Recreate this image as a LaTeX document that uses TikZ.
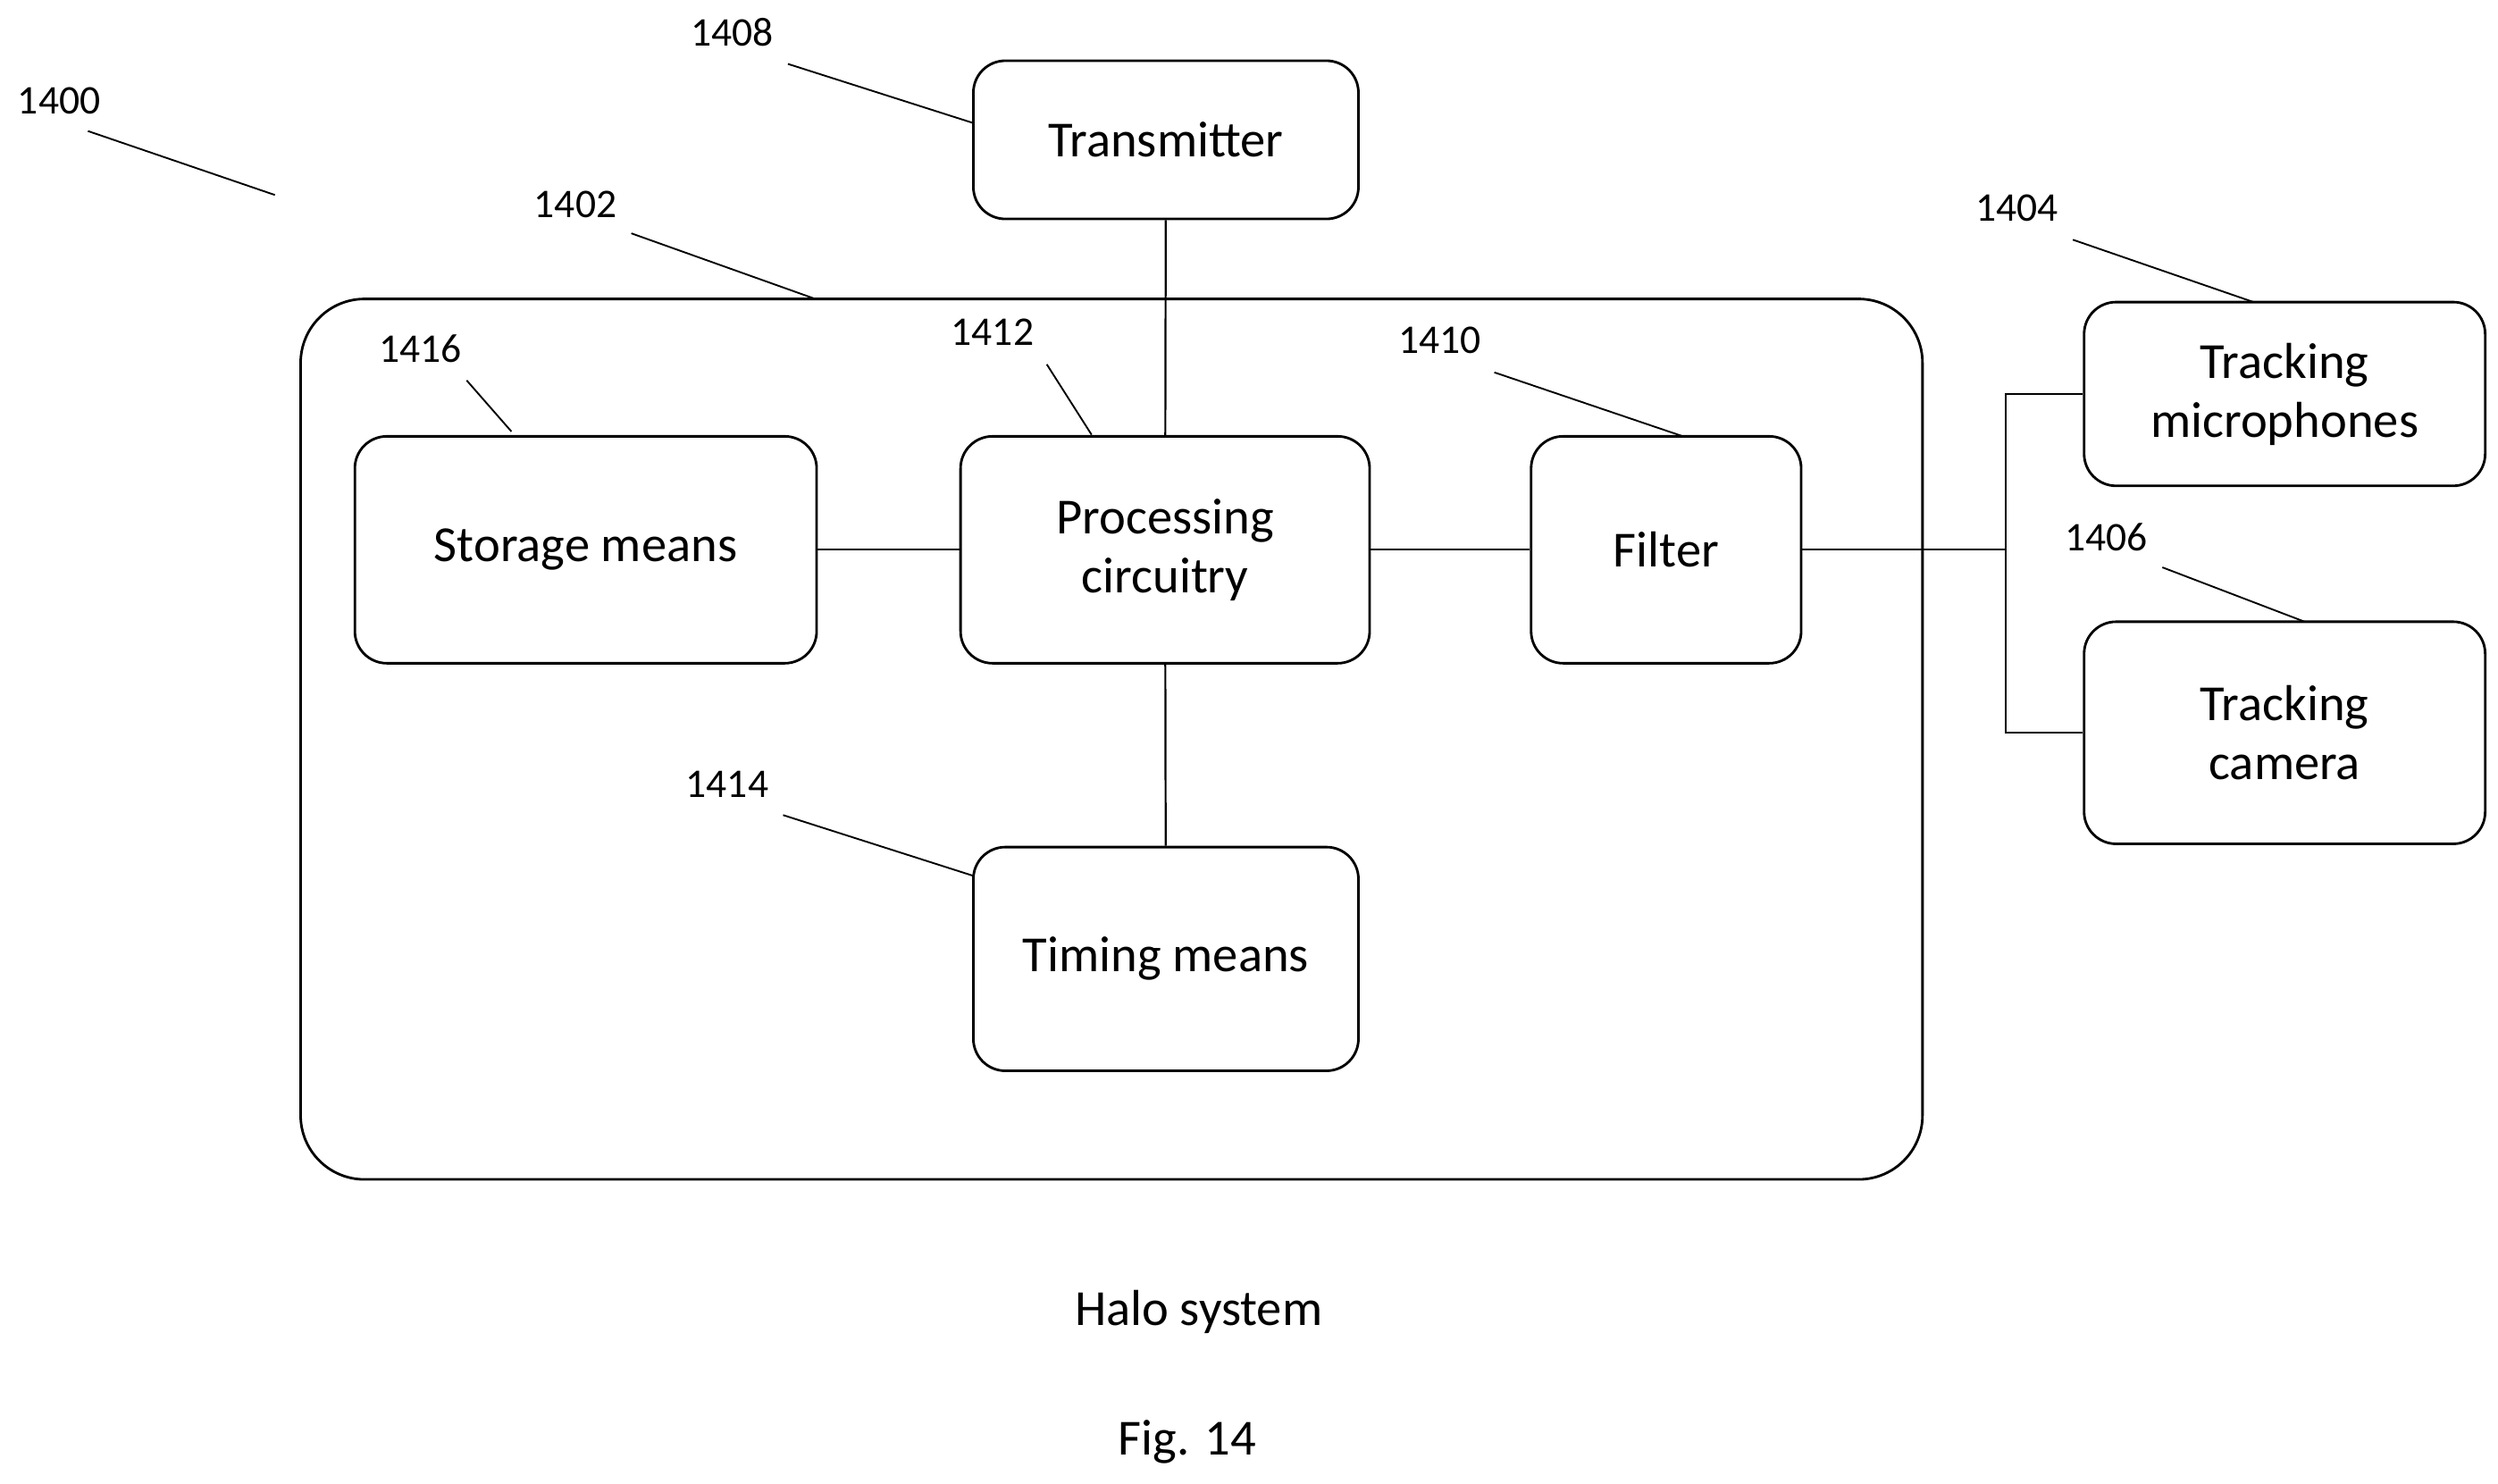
\documentclass[tikz,border=0pt]{standalone}
\usepackage{fontspec}
\setmainfont{Carlito}
\usetikzlibrary{positioning}
\tikzset{
  block/.style={draw, rounded corners=0.4cm, line width=0.9pt, align=center, font=\fontsize{18}{21}\selectfont, inner sep=0pt},
  num/.style={font=\fontsize{14.5}{17}\selectfont, inner sep=1pt},
  lead/.style={line width=0.6pt},
  wire/.style={line width=0.7pt}
}
\begin{document}
\begin{tikzpicture}[x=0.02cm,y=-0.02cm]
        \useasboundingbox (0,0) rectangle (1563,928);
        % Outer box
        \node[draw, rounded corners=0.8cm, line width=0.9pt, minimum width=20.3cm, minimum height=11.02cm] (halo) at (695.5,462.5) {};

        % Blocks
        \node[block, minimum width=4.82cm, minimum height=1.98cm] (tx) at (729.5,87.5) {Transmitter};
        \node[block, minimum width=5.78cm, minimum height=2.84cm] (store) at (366.5,344) {Storage means};
        \node[block, minimum width=5.12cm, minimum height=2.84cm] (proc) at (729,344) {Processing\\circuitry};
        \node[block, minimum width=3.38cm, minimum height=2.84cm] (filt) at (1042.5,344) {Filter};
        \node[block, minimum width=4.82cm, minimum height=2.8cm] (time) at (729.5,600) {Timing means};
        \node[block, minimum width=5.02cm, minimum height=2.3cm] (mic) at (1429.5,246.5) {Tracking\\microphones};
        \node[block, minimum width=5.02cm, minimum height=2.78cm] (cam) at (1429.5,458.5) {Tracking\\camera};

        % Connections
        \draw[wire] (tx) -- (proc);
        \draw[wire] (store) -- (proc);
        \draw[wire] (proc) -- (filt);
        \draw[wire] (proc) -- (time);
        \coordinate (split) at (1255,344);
        \draw[wire] (filt.east) -- (split);
        \draw[wire] (split) |- (mic.west);
        \draw[wire] (split) |- (cam.west);

        % Reference numerals
        \node[num] (n1400) at (37,63) {1400};
        \coordinate (p1400) at (172,122);
        \draw[lead] (55,82) -- (p1400);
        \node[num] (n1408) at (458,20) {1408};
        \draw[lead] (493,40) -- (609,77);
        \node[num] (n1402) at (360,128) {1402};
        \draw[lead] (395,146) -- (510,187);
        \node[num] (n1416) at (263,218) {1416};
        \draw[lead] (292,238) -- (320,270);
        \node[num] (n1412) at (621,208) {1412};
        \draw[lead] (655,228) -- (683,272);
        \node[num] (n1410) at (901,213) {1410};
        \draw[lead] (935,233) -- (1053,273);
        \node[num] (n1404) at (1262,130) {1404};
        \draw[lead] (1297,150) -- (1410,189);
        \node[num] (n1406) at (1318,336) {1406};
        \draw[lead] (1353,355) -- (1442,389);
        \node[num] (n1414) at (455,491) {1414};
        \draw[lead] (490,510) -- (609,548);

        % Captions
        \node[font=\fontsize{18}{21}\selectfont] (title) at (750,821) {Halo system};
        \node[font=\fontsize{18}{21}\selectfont] (fig) at (743,902) {Fig. 14};
\end{tikzpicture}
\end{document}
